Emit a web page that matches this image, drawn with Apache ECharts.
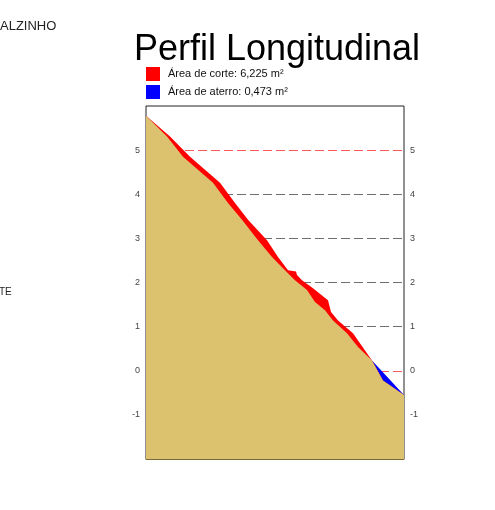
<!DOCTYPE html>
<html>
<head>
<meta charset="utf-8">
<script src="https://cdn.jsdelivr.net/npm/echarts@6/dist/echarts.min.js"></script>
<style>
  html, body { margin: 0; padding: 0; background: #fff; }
  #perfil { width: 495px; height: 510px; }
</style>
</head>
<body>
<div id="perfil"></div>
<script>
// terreno natural: distancia (m) e cota (m)
var distTerreno = [0, 2.4, 4.4, 7.4, 8.9, 10.2, 12.1, 13.2, 14.2, 15.0, 15.1, 15.6, 16.7, 18.2, 18.5, 19.2, 20.7, 22.6, 23.7, 25.8];
var cotaTerreno = [5.78, 5.31, 4.85, 4.26, 3.80, 3.42, 2.96, 2.58, 2.28, 2.25, 2.17, 2.05, 1.87, 1.60, 1.33, 1.14, 0.85, 0.23, -0.22, -0.55];
// greide projetado
var distGreide = [0, 2.1, 3.7, 6.7, 8.2, 9.6, 11.2, 12.6, 13.9, 14.9, 16.1, 16.9, 17.9, 18.7, 20.1, 21.2, 22.6, 25.8];
var cotaGreide = [5.78, 5.31, 4.85, 4.26, 3.80, 3.42, 2.96, 2.58, 2.28, 2.05, 1.83, 1.56, 1.37, 1.14, 0.85, 0.54, 0.23, -0.55];
// ponto onde corte vira aterro
var passagem = 22.6;
var cotasEixo = [-2, -1, 0, 1, 2, 3, 4, 5, 6];
var legendas = ['Área de corte: 6,225 m²', 'Área de aterro: 0,473 m²'];

var dom = document.getElementById('perfil');
var myChart = echarts.init(dom, null, { renderer: 'canvas' });

var ptsTerreno = distTerreno.map(function (d, i) { return [d, cotaTerreno[i]]; });
var ptsGreide = distGreide.map(function (d, i) { return [d, cotaGreide[i]]; });
// solo que fica: greide no corte, terreno no aterro
var ptsSolo = ptsGreide.filter(function (p) { return p[0] <= passagem; })
    .concat(ptsTerreno.filter(function (p) { return p[0] > passagem; }));

// cores das linhas de grade: 0 e 5 em vermelho
var gridColors = cotasEixo.map(function (v) {
    if (v === 0 || v === 5) return '#ff5a5a';
    if (v === 6 || v === -2) return 'rgba(0,0,0,0)';
    return '#6e6e6e';
});

var labelFmt = function (v) {
    return (v <= cotasEixo[0] || v >= cotasEixo[cotasEixo.length - 1]) ? '' : String(v);
};

var eixoY = function (pos) {
    return {
        type: 'value', min: -2, max: 6, interval: 1, position: pos,
        axisLine: { show: false },
        axisTick: { show: false },
        axisLabel: {
            formatter: labelFmt, fontSize: 9, color: '#444', margin: 6,
            fontFamily: 'Liberation Sans, Arial', padding: [0, 0, 5, 0]
        },
        splitLine: pos === 'left'
            ? { show: true, lineStyle: { color: gridColors, type: [9, 4], width: 1 } }
            : { show: false }
    };
};

var option = {
    animation: false,
    title: {
        text: 'Perfil Longitudinal',
        left: 272,
        textAlign: 'center',
        top: 27,
        textStyle: {
            fontFamily: 'Liberation Sans, Arial, sans-serif',
            fontSize: 36,
            fontWeight: 'normal',
            color: '#000'
        }
    },
    graphic: [
        {
            type: 'text', left: 0, top: 20,
            style: { text: 'ALZINHO', fontSize: 13, fontFamily: 'Liberation Sans, Arial', fill: '#222' }
        },
        {
            type: 'text', left: -1, top: 287,
            style: { text: 'TE', fontSize: 10, fontFamily: 'Liberation Sans, Arial', fill: '#222' }
        }
    ],
    legend: {
        data: legendas,
        orient: 'vertical',
        left: 146,
        top: 67,
        padding: 0,
        itemWidth: 14,
        itemHeight: 14,
        itemGap: 4,
        icon: 'rect',
        textStyle: {
            fontFamily: 'Liberation Sans, Arial, sans-serif',
            fontSize: 11,
            color: '#111',
            padding: [0, 0, 0, 3]
        }
    },
    grid: {
        left: 146, right: 91, top: 106, bottom: 51,
        show: true,
        borderColor: '#222',
        borderWidth: 1,
        backgroundColor: '#fff'
    },
    xAxis: {
        type: 'value',
        min: 0,
        max: 25.8,
        axisLabel: { show: false },
        axisTick: { show: false },
        splitLine: { show: false },
        axisLine: { show: true, onZero: false, lineStyle: { color: '#7a6a3a', width: 1 } }
    },
    yAxis: [eixoY('left'), eixoY('right')],
    series: [
        {
            name: legendas[1],
            type: 'line',
            data: ptsGreide,
            symbol: 'none',
            itemStyle: { color: '#0000ff' },
            lineStyle: { width: 0 },
            areaStyle: { color: '#0000ff', opacity: 1, origin: 'start' }
        },
        {
            name: legendas[0],
            type: 'line',
            data: ptsTerreno,
            symbol: 'none',
            itemStyle: { color: '#ff0000' },
            lineStyle: { width: 0 },
            areaStyle: { color: '#ff0000', opacity: 1, origin: 'start' }
        },
        {
            name: 'Solo',
            type: 'line',
            data: ptsSolo,
            symbol: 'none',
            itemStyle: { color: '#dcc16f' },
            lineStyle: { width: 0 },
            areaStyle: { color: '#dcc16f', opacity: 1, origin: 'start' }
        }
    ]
};

if (option && typeof option === 'object') {
    myChart.setOption(option);
}
</script>
</body>
</html>
